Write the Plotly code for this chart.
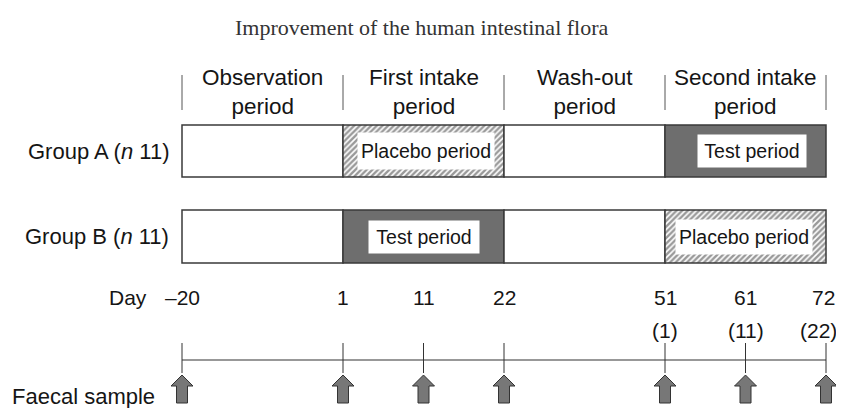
import plotly.graph_objects as go

# ---------------- data ----------------
title = "Improvement of the human intestinal flora"
periods = ["Observation<br>period", "First intake<br>period", "Wash-out<br>period", "Second intake<br>period"]
period_start_slot = [0, 1, 2, 3]          # schematic slot where each period starts (equal-width periods)
groups = ["Group A (<i>n</i> 11)", "Group B (<i>n</i> 11)"]
group_a = ["none", "placebo", "none", "test"]
group_b = ["none", "test", "none", "placebo"]
days = [-20, 1, 11, 22, 51, 61, 72]
days_second = ["", "", "", "", "(1)", "(11)", "(22)"]
day_slot = [0, 1, 1.5, 2, 3, 3.5, 4]     # schematic position of each day on the time line
sample_days = [-20, 1, 11, 22, 51, 61, 72]
kind_label = {"placebo": "Placebo period", "test": "Test period"}

# ---------------- layout helpers ----------------
PAGE_W, PAGE_H, OFF = 844, 408, 8         # page body has an 8 px margin
W, H = PAGE_W - OFF, PAGE_H - OFF
X0_PX, SLOT_PX = 182, 161
xr = [(OFF - X0_PX) / SLOT_PX, (PAGE_W - X0_PX) / SLOT_PX]
def px(dx):
    return dx / SLOT_PX

row_y = [151, 236.5]
row_h = [52, 53]
DARK = "#6e6e6e"
EDGE = "#3a3a3a"
TXT = "#151515"
SANS = "Liberation Sans, Arial, sans-serif"

fig = go.Figure()

# period boxes
inner = {("placebo", 0): (134, 34, 2), ("test", 0): (106, 30, 6),
         ("test", 1): (108, 30, 0), ("placebo", 1): (134, 32, -2)}
for gi, (gname, seq) in enumerate(zip(groups, [group_a, group_b])):
    for pi, kind in enumerate(seq):
        if kind == "test":
            marker = dict(color=DARK, line=dict(color=EDGE, width=1.5))
        elif kind == "placebo":
            marker = dict(color="white", line=dict(color=EDGE, width=1.5),
                          pattern=dict(shape="/", fgcolor="#333333", bgcolor="white",
                                       size=4, solidity=0.6))
        else:
            marker = dict(color="white", line=dict(color=EDGE, width=1.5))
        fig.add_trace(go.Bar(orientation="h", y=[row_y[gi]], x=[1], base=[period_start_slot[pi]],
                             width=[row_h[gi]], marker=marker, showlegend=False, hoverinfo="skip"))
        if kind in kind_label:
            w, h, xs = inner[(kind, gi)]
            fig.add_annotation(x=period_start_slot[pi] + 0.5, y=row_y[gi], xref="x", yref="y",
                               text=kind_label[kind], showarrow=False, bgcolor="white",
                               width=w, height=h, xshift=xs,
                               font=dict(family=SANS, size=19.5, color=TXT))
    fig.add_annotation(x=0, y=row_y[gi], xref="x", yref="y", text=gname, showarrow=False,
                       xanchor="right", xshift=-11, font=dict(family=SANS, size=22, color=TXT))

# header separators and names
sep_x, sep_y = [], []
for s in period_start_slot + [4]:
    sep_x += [s, s, None]
    sep_y += [75, 110, None]
fig.add_trace(go.Scatter(x=sep_x, y=sep_y, mode="lines", line=dict(color="#555", width=1),
                         showlegend=False, hoverinfo="skip"))
for pi, name in enumerate(periods):
    fig.add_annotation(x=period_start_slot[pi] + 0.5, y=92, xref="x", yref="y", text=name,
                       showarrow=False, font=dict(family=SANS, size=22.5, color=TXT))

# day labels
fig.add_annotation(x=0, y=297, xref="x", yref="y", text="Day", showarrow=False, xanchor="right",
                   xshift=-33, font=dict(family=SANS, size=21, color=TXT))
for d, d2, s in zip(days, days_second, day_slot):
    last = s == day_slot[-1]
    fig.add_annotation(x=s, y=297, xref="x", yref="y", text=str(d).replace("-", "–"),
                       showarrow=False, xshift=-3 if last else 0,
                       font=dict(family=SANS, size=21, color=TXT))
    if d2:
        fig.add_annotation(x=s, y=330, xref="x", yref="y", text=d2, showarrow=False,
                           xshift=-8 if last else 0,
                           font=dict(family=SANS, size=21, color=TXT))

# time line with ticks
fig.add_trace(go.Scatter(x=[day_slot[0], day_slot[-1]], y=[360, 360], mode="lines",
                         line=dict(color="#333", width=1.2), showlegend=False, hoverinfo="skip"))
tx, ty = [], []
for s in day_slot:
    tx += [s, s, None]
    ty += [343, 373, None]
fig.add_trace(go.Scatter(x=tx, y=ty, mode="lines", line=dict(color="#333", width=1),
                         showlegend=False, hoverinfo="skip"))

# faecal sample arrows
arrow_dx = [0, 11, 5.5, 5.5, -5.5, -5.5, -11, 0]
arrow_y = [375, 386, 386, 403, 403, 386, 386, 375]
for d in sample_days:
    s = day_slot[days.index(d)]
    fig.add_trace(go.Scatter(x=[s + px(dx) for dx in arrow_dx], y=arrow_y, mode="lines",
                             fill="toself", fillcolor="#777", line=dict(color="#333", width=1),
                             showlegend=False, hoverinfo="skip"))
fig.add_annotation(x=xr[0], y=396, xref="x", yref="y", text="Faecal sample", showarrow=False,
                   xanchor="left", xshift=2, font=dict(family=SANS, size=22, color=TXT))

# title
fig.add_annotation(x=(422 - X0_PX) / SLOT_PX, y=27, xref="x", yref="y", text=title, showarrow=False,
                   font=dict(family="Liberation Serif, Times New Roman, serif", size=22, color="#333"))

fig.update_layout(width=W, height=H, margin=dict(l=0, r=0, t=0, b=0),
                  paper_bgcolor="white", plot_bgcolor="white", barmode="overlay",
                  xaxis=dict(range=xr, visible=False, fixedrange=True),
                  yaxis=dict(range=[PAGE_H, OFF], visible=False, fixedrange=True))
fig.write_html("out.html")
